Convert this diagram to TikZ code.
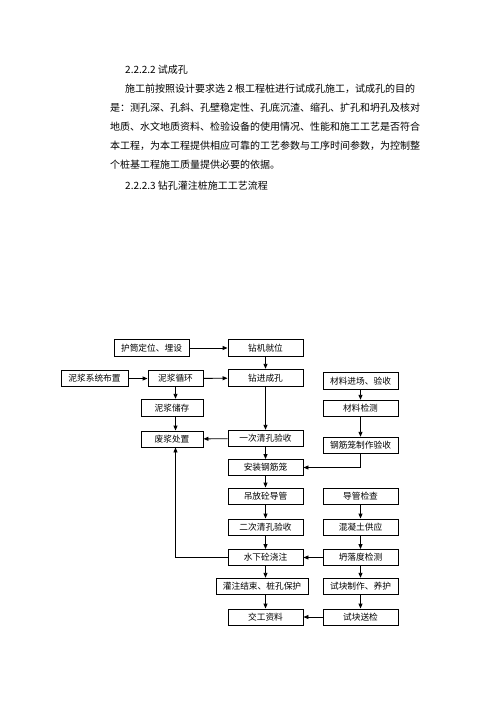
\documentclass[tikz,border=0pt]{standalone}
\usepackage{fontspec}
\setmainfont{Noto Sans CJK SC}
\usetikzlibrary{arrows.meta,calc}
\begin{document}
\begin{tikzpicture}[x=1pt,y=-1pt,
  txt/.style={anchor=west,inner sep=0pt,font=\fontsize{10}{12}\selectfont},
  fbox/.style={draw,line width=0.9pt,inner sep=0pt,minimum width=75pt,minimum height=16.5pt,font=\fontsize{8.7}{10}\selectfont},
  arr/.style={line width=0.9pt,-{Triangle[length=5pt,width=4pt]}},
  ln/.style={line width=0.9pt}]
\useasboundingbox (0,0) rectangle (496,702);
% text
\node[txt] (t1) at (125,70) {2.2.2.2 试成孔};
\node[txt] (t2) at (125,89) {施工前按照设计要求选 2 根工程桩进行试成孔施工，试成孔的目的};
\node[txt] (t3) at (110,108) {是：测孔深、孔斜、孔壁稳定性、孔底沉渣、缩孔、扩孔和坍孔及核对};
\node[txt] (t4) at (110,127) {地质、水文地质资料、检验设备的使用情况、性能和施工工艺是否符合};
\node[txt] (t5) at (110,146) {本工程，为本工程提供相应可靠的工艺参数与工序时间参数，为控制整};
\node[txt] (t6) at (110,165) {个桩基工程施工质量提供必要的依据。};
\node[txt] (t7) at (125,186) {2.2.2.3 钻孔灌注桩施工工艺流程};
% boxes
\node[fbox] (a1) at (151.5,348) {护筒定位、埋设};
\node[fbox] (a2) at (265.5,348) {钻机就位};
\node[fbox,minimum width=67pt] (b1) at (94.5,378.5) {泥浆系统布置};
\node[fbox,minimum width=55pt] (b2) at (175.5,378.5) {泥浆循环};
\node[fbox,minimum height=17.5pt] (b3) at (265.5,378) {钻进成孔};
\node[fbox] (m1) at (360.5,381) {材料进场、验收};
\node[fbox,minimum width=62pt,minimum height=17.5pt] (c1) at (172,408) {泥浆储存};
\node[fbox] (m2) at (360.5,408.5) {材料检测};
\node[fbox,minimum width=62pt,minimum height=16pt] (c2) at (172,439) {废浆处置};
\node[fbox] (b4) at (265.5,438.5) {一次清孔验收};
\node[fbox] (m3) at (360.5,445.5) {钢筋笼制作验收};
\node[fbox,minimum height=16pt] (b5) at (265.5,467.5) {安装钢筋笼};
\node[fbox,minimum height=16pt] (b6) at (265.5,496) {吊放砼导管};
\node[fbox,minimum height=16pt] (r1) at (360.5,496) {导管检查};
\node[fbox,minimum height=16pt] (b7) at (265.5,527) {二次清孔验收};
\node[fbox,minimum height=16pt] (r2) at (360.5,527) {混凝土供应};
\node[fbox,minimum height=16pt] (b8) at (265.5,557.5) {水下砼浇注};
\node[fbox,minimum height=16pt] (r3) at (360.5,557.5) {坍落度检测};
\node[fbox,minimum width=92pt] (b9) at (262,586.5) {灌注结束、桩孔保护};
\node[fbox] (r4) at (360.5,586.5) {试块制作、养护};
\node[fbox,minimum height=16pt] (b10) at (265.5,617) {交工资料};
\node[fbox,minimum height=16pt] (r5) at (360.5,617) {试块送检};
% connectors
\draw[arr] (a1) -- (a2);
\draw[arr] (a2) -- (b3);
\draw[arr] (b1) -- (b2);
\draw[arr] (b2) -- (b3);
\draw[arr] (b2.south) -- (b2.south |- c1.north);
\draw[arr] (b2.south |- c1.south) -- (b2.south |- c2.north);
\draw[arr] (b3) -- (b4);
\draw[arr] (b4) -- (c2);
\draw[arr] (b4) -- (b5);
\draw[arr] (m1) -- (m2);
\draw[arr] (m2) -- (m3);
\draw[arr] (m3.south) -- (m3.south |- b5.east) -- (b5.east);
\draw[arr] (b5) -- (b6);
\draw[arr] (b6) -- (b7);
\draw[arr] (b7) -- (b8);
\draw[arr] (b8.south) -- (b8.south |- b9.north);
\draw[arr] (b9.south -| b10.south) -- (b10.north);
\draw[arr] (r1) -- (r2);
\draw[arr] (r2) -- (r3);
\draw[arr] (r3) -- (b8);
\draw[arr] (r3) -- (r4);
\draw[arr] (r4) -- (r5);
\draw[arr] (r5) -- (b10);
\draw[arr] (b8.west) -- (b8.west -| b2.south) -- (b2.south |- c2.south);
\end{tikzpicture}
\end{document}
